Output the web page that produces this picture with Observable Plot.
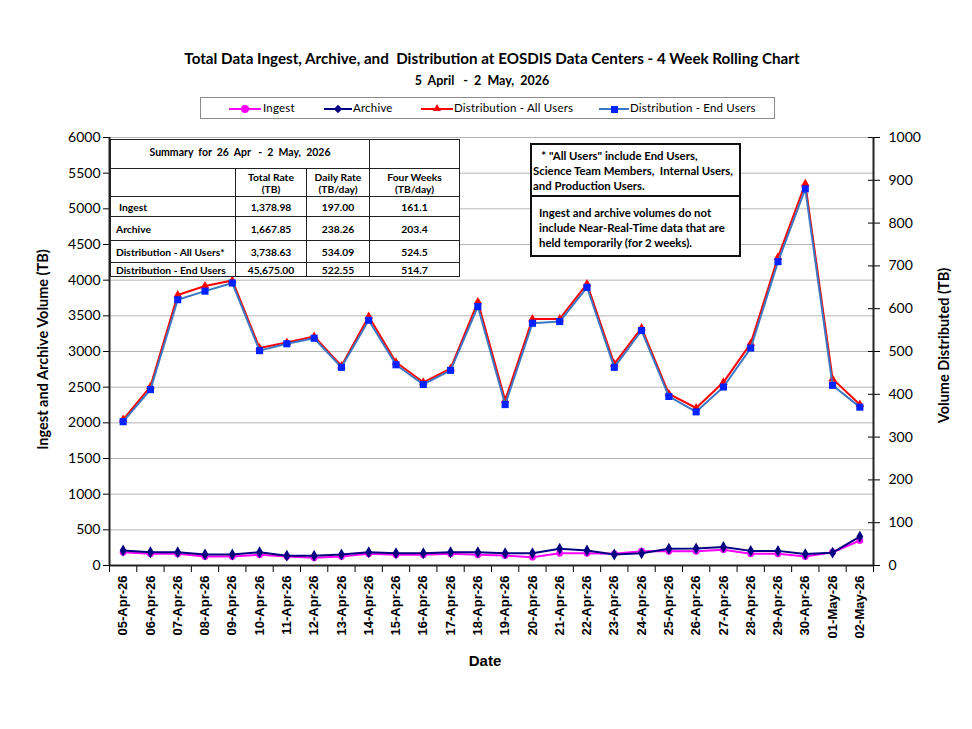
<!DOCTYPE html>
<html><head><meta charset="utf-8">
<script src="https://cdn.jsdelivr.net/npm/d3@7"></script>
<script src="https://cdn.jsdelivr.net/npm/@observablehq/plot@0.6"></script>
<style>
body{margin:0;background:#fff;}
#wrap{position:relative;width:972px;height:729px;font-family:Lato,"Open Sans",sans-serif;color:#000;overflow:hidden;}
#wrap svg{position:absolute;left:0;top:0;}
.abs{position:absolute;white-space:nowrap;}
.title{left:0;width:984px;text-align:center;font-weight:bold;}
.legend{left:200px;top:97px;width:575px;height:22px;border:1px solid #8c8c8c;box-sizing:border-box;background:#fff;}
.lg-line{position:absolute;height:2px;top:10px;}
.lg-text{position:absolute;top:3px;font-size:11.5px;letter-spacing:0.2px;}
.mk{position:absolute;}
table.sum{position:absolute;left:110px;top:139px;border-collapse:collapse;background:#fff;font-weight:bold;font-size:10.3px;}
table.sum td{border:1.5px solid #222;padding:0;text-align:center;vertical-align:middle;line-height:12px;}
.note{position:absolute;left:530px;width:211px;border:2px solid #111;background:#fff;box-sizing:border-box;font-weight:bold;font-size:11.4px;line-height:15px;}
.axt{font-weight:bold;font-size:14.5px;transform-origin:center center;}
</style></head><body><div id="wrap"></div>
<script>
// ---- data ----
const dates = ["05-Apr-26","06-Apr-26","07-Apr-26","08-Apr-26","09-Apr-26","10-Apr-26","11-Apr-26","12-Apr-26","13-Apr-26","14-Apr-26","15-Apr-26","16-Apr-26","17-Apr-26","18-Apr-26","19-Apr-26","20-Apr-26","21-Apr-26","22-Apr-26","23-Apr-26","24-Apr-26","25-Apr-26","26-Apr-26","27-Apr-26","28-Apr-26","29-Apr-26","30-Apr-26","01-May-26","02-May-26"];
const ingest  = [186,164,164,126,126,150,126,108,126,164,150,150,164,150,140,117,172,172,164,200,200,200,220,164,164,126,186,350];
const archive = [210,186,186,154,154,186,136,136,154,186,172,172,186,186,172,172,234,210,154,172,234,240,260,205,205,160,180,405];
const distAll = [341,418,632,653,666,508,521,535,466,582,475,428,460,616,386,576,576,658,471,555,401,368,428,519,720,892,436,376];
const distEnd = [336,411,621,641,660,502,518,531,463,573,469,423,456,605,376,566,570,650,463,549,395,359,417,508,710,880,421,370];
const leftTicks = [0,500,1000,1500,2000,2500,3000,3500,4000,4500,5000,5500,6000];
const rightTicks = [0,100,200,300,400,500,600,700,800,900,1000];
const ratio = 6; // left units per right unit

const summaryLabels = ["Ingest","Archive","Distribution - All Users*","Distribution - End Users"];
const totalRate = ["1,378.98","1,667.85","3,738.63","45,675.00"];
const dailyRate = ["197.00","238.26","534.09","522.55"];
const fourWeeks = ["161.1","203.4","524.5","514.7"];

const seriesNames = ["Ingest","Archive","Distribution - All Users","Distribution - End Users"];
const colors = {ingest:"#FF00FF", archive:"#000080", all:"#FF0000", endLine:"#3A78C2", endMark:"#0022FF"};

const rows = dates.map((d,i)=>({i, date:d, ingest:ingest[i], archive:archive[i], all:distAll[i], end:distEnd[i]}));
const xDomain = [-0.5, dates.length - 0.5];
const rightTickPos = rightTicks.map(v=>v*ratio);

const plot = Plot.plot({
  width:972, height:729,
  marginTop:137, marginBottom:164, marginLeft:109, marginRight:99,
  x:{type:"linear", domain:xDomain},
  y:{domain:[0,6000]},
  style:{fontFamily:"Lato, sans-serif", background:"transparent", color:"#000"},
  marks:[
    Plot.gridY(leftTicks, {stroke:"#b5b5b5", strokeOpacity:1, strokeWidth:1}),
    Plot.axisY(leftTicks, {anchor:"left", tickSize:6, tickPadding:3, fontSize:14, label:null, tickFormat:d=>String(d)}),
    Plot.axisY(rightTickPos, {anchor:"right", tickSize:6, tickPadding:9, fontSize:14, label:null, tickFormat:v=>String(v/ratio)}),
    Plot.axisY(rightTickPos, {anchor:"right", tickSize:6, dx:-6, tickFormat:()=>"", label:null}),
    Plot.axisX(d3.range(dates.length), {anchor:"bottom", tickSize:0, tickPadding:10, tickRotate:-90, tickFormat:i=>dates[i], fontSize:13, fontWeight:"bold", fontFamily:"Liberation Sans, Arial, sans-serif", label:null}),
    Plot.axisX(d3.range(dates.length+1).map(k=>k-0.5), {anchor:"bottom", tickSize:7, tickFormat:()=>"", label:null}),
    Plot.ruleX(xDomain, {stroke:"#222", strokeWidth:2}),
    Plot.ruleY([0], {stroke:"#222", strokeWidth:2}),
    Plot.line(rows, {x:"i", y:"ingest", stroke:colors.ingest, strokeWidth:2}),
    Plot.dot(rows, {x:"i", y:"ingest", fill:colors.ingest, r:3.4, symbol:"circle"}),
    Plot.line(rows, {x:"i", y:"archive", stroke:colors.archive, strokeWidth:2}),
    Plot.dot(rows, {x:"i", y:"archive", fill:colors.archive, r:3.6, symbol:"diamond"}),
    Plot.line(rows, {x:"i", y:d=>d.all*ratio, stroke:colors.all, strokeWidth:2}),
    Plot.dot(rows, {x:"i", y:d=>d.all*ratio, fill:colors.all, r:3.2, symbol:"triangle"}),
    Plot.line(rows, {x:"i", y:d=>d.end*ratio, stroke:colors.endLine, strokeWidth:2}),
    Plot.dot(rows, {x:"i", y:d=>d.end*ratio, fill:colors.endMark, r:4, symbol:"square"})
  ]
});

const wrap = document.getElementById("wrap");
wrap.appendChild(plot);

function add(html){ wrap.insertAdjacentHTML("beforeend", html); }

// Titles
add(`<div class="abs title" style="top:49px;font-size:15.2px;">Total Data Ingest, Archive, and&nbsp; Distribution at EOSDIS Data Centers - 4 Week Rolling Chart</div>`);
add(`<div class="abs title" style="top:73px;font-size:12.5px;left:-10px;">5&nbsp; April&nbsp; &nbsp;-&nbsp; 2&nbsp; May,&nbsp; 2026</div>`);

// Legend
function marker(kind, cx, cy, color){
  if(kind==="circle") return `<div class="mk" style="left:${cx-4}px;top:${cy-4}px;width:8px;height:8px;border-radius:50%;background:${color}"></div>`;
  if(kind==="diamond") return `<div class="mk" style="left:${cx-3}px;top:${cy-3}px;width:6px;height:6px;transform:rotate(45deg);background:${color}"></div>`;
  if(kind==="triangle") return `<div class="mk" style="left:${cx-4}px;top:${cy-5}px;width:0;height:0;border-left:4px solid transparent;border-right:4px solid transparent;border-bottom:7px solid ${color}"></div>`;
  return `<div class="mk" style="left:${cx-3.5}px;top:${cy-3.5}px;width:7px;height:7px;background:${color}"></div>`;
}
const legItems = [
  {name:seriesNames[0], kind:"circle", line:colors.ingest, mark:colors.ingest, x0:28, x1:60, tx:62},
  {name:seriesNames[1], kind:"diamond", line:colors.archive, mark:colors.archive, x0:123, x1:151, tx:152},
  {name:seriesNames[2], kind:"triangle", line:colors.all, mark:colors.all, x0:220, x1:252, tx:253},
  {name:seriesNames[3], kind:"square", line:colors.endLine, mark:colors.endMark, x0:398, x1:428, tx:429}
];
let lg = `<div class="abs legend">`;
for(const it of legItems){
  lg += `<div class="lg-line" style="left:${it.x0}px;width:${it.x1-it.x0}px;background:${it.line}"></div>`;
  lg += marker(it.kind, (it.x0+it.x1)/2, 11, it.mark);
  lg += `<div class="lg-text" style="left:${it.tx}px">${it.name}</div>`;
}
lg += `</div>`;
add(lg);

// Summary table
const rowH = [20,24,22,14];
let t = `<table class="sum"><colgroup><col style="width:125px"><col style="width:71px"><col style="width:63px"><col style="width:90px"></colgroup>`;
t += `<tr style="height:29px"><td colspan="3" style="font-size:10.5px;padding-bottom:4px">Summary&nbsp; for&nbsp; 26&nbsp; Apr&nbsp; &nbsp;-&nbsp; 2&nbsp; May,&nbsp; 2026</td><td style="border-bottom:1px solid #222"></td></tr>`;
t += `<tr style="height:28px"><td></td><td>Total Rate<br>(TB)</td><td>Daily Rate<br>(TB/day)</td><td style="vertical-align:top;padding-top:2px">Four Weeks<br>(TB/day)</td></tr>`;
for(let k=0;k<summaryLabels.length;k++){
  t += `<tr style="height:${rowH[k]}px"><td style="text-align:left;padding-left:${k===0?8:5}px">${summaryLabels[k]}</td><td>${totalRate[k]}</td><td>${dailyRate[k]}</td><td>${fourWeeks[k]}</td></tr>`;
}
t += `</table>`;
add(t);

// Notes
add(`<div class="note" style="top:143px;height:54px;padding:3px 0 0 1px;">&nbsp; &nbsp;* "All Users" include End Users,<br>Science Team Members,&nbsp; Internal Users,<br>and Production Users.</div>`);
add(`<div class="note" style="top:195px;height:62px;padding:8px 0 0 7px;">Ingest and archive volumes do not<br>include Near-Real-Time data that are<br>held temporarily (for 2 weeks).</div>`);

// Axis titles
add(`<div class="abs axt" style="left:-68px;top:341px;width:220px;text-align:center;transform:rotate(-90deg);">Ingest and Archive Volume (TB)</div>`);
add(`<div class="abs axt" style="left:853px;top:337px;width:180px;text-align:center;transform:rotate(-90deg);">Volume Distributed (TB)</div>`);
add(`<div class="abs" style="left:440px;top:652px;width:90px;text-align:center;font-family:'Liberation Sans',Arial,sans-serif;font-weight:bold;font-size:15px;">Date</div>`);
</script></body></html>
